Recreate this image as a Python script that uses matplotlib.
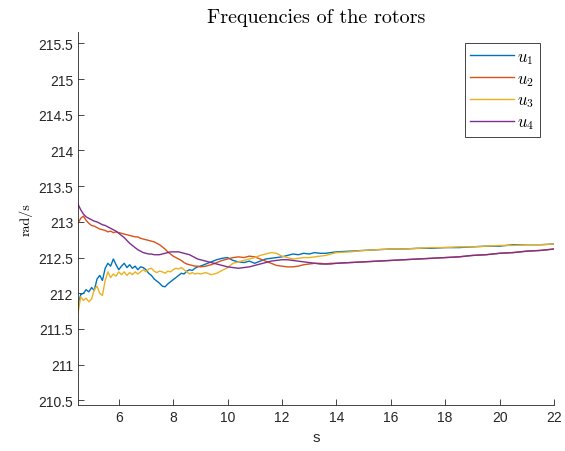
import matplotlib
matplotlib.use("Agg")
import matplotlib.pyplot as plt
from matplotlib.ticker import MultipleLocator, FuncFormatter

plt.rcParams["font.family"] = ["Liberation Sans", "DejaVu Sans"]
plt.rcParams["mathtext.fontset"] = "cm"

# sample times (s)
t = [4.5, 4.6, 4.7, 4.8, 4.9,
     5.0, 5.1, 5.2, 5.3, 5.4, 5.5, 5.6, 5.7, 5.8, 5.9,
     6.0, 6.1, 6.2, 6.3, 6.4, 6.5, 6.6, 6.7, 6.8, 6.9,
     7.0, 7.1, 7.2, 7.3, 7.4, 7.5, 7.6, 7.7, 7.8, 7.9,
     8.0, 8.1, 8.2, 8.3, 8.4, 8.5, 8.6, 8.7, 8.8, 8.9,
     9.0, 9.2, 9.4, 9.6, 9.8, 10.0, 10.2, 10.4, 10.6, 10.8,
     11.0, 11.2, 11.4, 11.6, 11.8, 12.0, 12.2, 12.4, 12.6, 12.8,
     13.0, 13.2, 13.4, 13.6, 13.8, 14.0,
     14.5, 15.0, 15.5, 16.0, 16.5, 17.0, 17.5, 18.0, 18.5,
     19.0, 19.5, 20.0, 20.5, 21.0, 21.5, 22.0]

# rotor frequencies (rad/s)
u1 = [211.83, 211.98, 212.0, 212.05, 212.02,
      212.08, 212.04, 212.2, 212.25, 212.18, 212.35, 212.42, 212.38, 212.48, 212.4,
      212.33, 212.38, 212.42, 212.36, 212.4, 212.35, 212.38, 212.33, 212.37, 212.36,
      212.33, 212.28, 212.25, 212.2, 212.17, 212.14, 212.1, 212.09, 212.13, 212.16,
      212.19, 212.22, 212.25, 212.28, 212.27, 212.31, 212.33, 212.32, 212.35, 212.37,
      212.38, 212.41, 212.44, 212.47, 212.49, 212.5, 212.46, 212.44, 212.43, 212.45,
      212.42, 212.45, 212.48, 212.49, 212.5, 212.51, 212.53, 212.55, 212.54, 212.56,
      212.55, 212.57, 212.56, 212.56, 212.57, 212.58,
      212.59, 212.6, 212.61, 212.62, 212.62, 212.63, 212.63, 212.64, 212.64,
      212.65, 212.66, 212.66, 212.68, 212.68, 212.68, 212.69]

u2 = [212.98, 213.05, 213.08, 213.02, 212.98,
      212.95, 212.94, 212.92, 212.9, 212.89, 212.88, 212.86, 212.87, 212.85, 212.86,
      212.85, 212.84, 212.83, 212.82, 212.81, 212.8, 212.79, 212.79, 212.77, 212.76,
      212.75, 212.74, 212.73, 212.72, 212.7, 212.68, 212.65, 212.62, 212.58, 212.55,
      212.52, 212.5, 212.48, 212.46, 212.43, 212.41, 212.4, 212.39, 212.38, 212.38,
      212.37, 212.38, 212.4, 212.43, 212.46, 212.48, 212.5, 212.51, 212.5, 212.52,
      212.51, 212.48, 212.45, 212.42, 212.39, 212.38, 212.37, 212.37, 212.38, 212.4,
      212.41, 212.42, 212.42, 212.41, 212.42, 212.42,
      212.43, 212.44, 212.45, 212.46, 212.47, 212.48, 212.49, 212.5, 212.51,
      212.53, 212.54, 212.56, 212.57, 212.59, 212.6, 212.62]

u3 = [211.72, 211.95, 211.9, 211.93, 211.88,
      211.92, 212.05, 212.1, 212.0, 211.97, 212.18, 212.3, 212.22, 212.27, 212.24,
      212.3, 212.26, 212.3, 212.25, 212.29, 212.26, 212.3, 212.27, 212.3, 212.33,
      212.3, 212.34, 212.35, 212.31, 212.29, 212.31, 212.3, 212.28, 212.31, 212.3,
      212.33, 212.35, 212.34, 212.36, 212.33, 212.3, 212.27, 212.29, 212.27, 212.28,
      212.27, 212.29, 212.26, 212.28, 212.32, 212.36, 212.42, 212.44, 212.46, 212.48,
      212.5, 212.53, 212.55, 212.57, 212.56, 212.52, 212.5, 212.48, 212.49, 212.5,
      212.5, 212.51, 212.52, 212.53, 212.55, 212.57,
      212.58, 212.6, 212.61, 212.62, 212.62, 212.63, 212.64, 212.64, 212.65,
      212.65, 212.66, 212.67, 212.67, 212.68, 212.68, 212.69]

u4 = [213.25, 213.17, 213.11, 213.07, 213.05,
      213.03, 213.01, 213.0, 212.98, 212.96, 212.95, 212.93, 212.91, 212.89, 212.87,
      212.84, 212.81, 212.78, 212.74, 212.7, 212.67, 212.64, 212.61, 212.59, 212.57,
      212.56, 212.55, 212.55, 212.54, 212.54, 212.54, 212.55, 212.56, 212.57, 212.58,
      212.58, 212.58, 212.58, 212.57, 212.56, 212.55, 212.54, 212.52, 212.5, 212.48,
      212.47, 212.45, 212.43, 212.41, 212.39, 212.37, 212.36, 212.35, 212.36, 212.37,
      212.39, 212.41, 212.43, 212.45, 212.46, 212.47, 212.47, 212.46, 212.45, 212.44,
      212.43, 212.42, 212.41, 212.41, 212.41, 212.42,
      212.43, 212.44, 212.45, 212.46, 212.47, 212.48, 212.49, 212.5, 212.51,
      212.53, 212.54, 212.56, 212.57, 212.59, 212.6, 212.62]

series = [u1, u2, u3, u4]
labels = ["$u_1$", "$u_2$", "$u_3$", "$u_4$"]
colors = ["#0072BD", "#D95319", "#EDB120", "#7E2F8E"]

fig = plt.figure(figsize=(5.65, 4.52), dpi=100)
ax = fig.add_axes([0.138, 0.101, 0.8425, 0.826])

for y, lab, c in zip(series, labels, colors):
    ax.plot(t, y, color=c, lw=1.0, label=lab)

ax.set_xlim(4.5, 22)
ax.set_ylim(210.43, 215.66)
ax.xaxis.set_major_locator(MultipleLocator(2))
ax.yaxis.set_major_locator(MultipleLocator(0.5))
ax.yaxis.set_major_formatter(FuncFormatter(lambda v, p: "%g" % v))
ax.tick_params(direction="in", length=4, width=0.6, labelsize=10, colors="#262626")

for side in ["top", "right"]:
    ax.spines[side].set_visible(False)
for side in ["left", "bottom"]:
    ax.spines[side].set_linewidth(0.6)
    ax.spines[side].set_color("#262626")

ax.set_title("Frequencies of the rotors", fontfamily="cmr10", fontsize=14.5, pad=7)
ax.set_ylabel("rad/s", fontfamily="cmr10", fontsize=10, labelpad=4)
ax.set_xlabel("s", fontsize=11, color="#262626")

leg = ax.legend(loc="upper right", fontsize=12, handlelength=2.6, labelspacing=0.3,
                fancybox=False, framealpha=1, borderpad=0.35, handletextpad=0.2,
                bbox_to_anchor=(540 / 565, 1 - 44 / 452), bbox_transform=fig.transFigure,
                borderaxespad=0)
leg.get_frame().set_edgecolor("#262626")
leg.get_frame().set_linewidth(0.6)

fig.savefig("out.png", dpi=100)
